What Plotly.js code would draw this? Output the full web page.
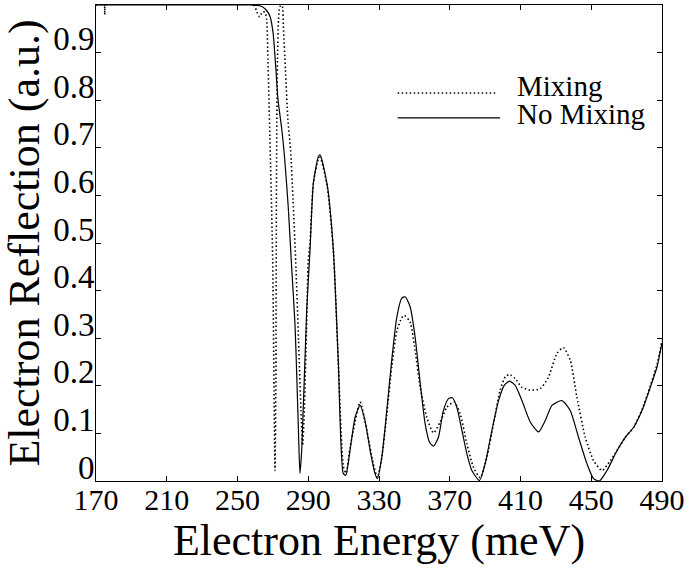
<!DOCTYPE html>
<html>
<head>
<meta charset="utf-8">
<script src="https://cdn.plot.ly/plotly-3.0.1.min.js"></script>
</head>
<body style="margin:0;padding:0;background:#fff;">
<div id="chart" style="width:693px;height:569px;"></div>
<script>
// ---- data ----
var energyNoMix = [170, 257, 261.6, 263.8, 266.1, 268.4, 270.1, 271.6, 272.9, 275.0, 276.5, 278.7, 280.6, 282.5, 283.6, 284.5, 285.3, 286.3, 289.1, 291.0, 292.9, 295.7, 296.7, 300.7, 304.2, 307.0, 309.8, 311.2, 313.6, 316.5, 319.3, 322.1, 325.0, 327.8, 329.1, 331.6, 334.4, 337.2, 340.1, 342.9, 344.8, 347.6, 350.4, 353.3, 356.1, 358.5, 360.8, 363.6, 366.4, 369.3, 371.5, 374.0, 376.9, 379.7, 382.5, 386.8, 390.0, 393.8, 397.6, 400.8, 403.8, 407.0, 410.8, 415.5, 420.2, 424.0, 427.8, 433.4, 438.1, 442.8, 447.6, 451.3, 454.6, 458.9, 464.6, 469.3, 474.0, 478.7, 483.4, 487.2, 490];
var reflNoMix = [1.0, 1.0, 0.999, 0.997, 0.990, 0.976, 0.942, 0.871, 0.801, 0.740, 0.685, 0.575, 0.45, 0.33, 0.21, 0.10, 0.016, 0.064, 0.357, 0.485, 0.626, 0.681, 0.685, 0.622, 0.485, 0.250, 0.016, 0.012, 0.064, 0.134, 0.159, 0.127, 0.064, 0.015, 0.005, 0.050, 0.148, 0.254, 0.345, 0.384, 0.387, 0.366, 0.303, 0.205, 0.120, 0.082, 0.073, 0.092, 0.148, 0.173, 0.175, 0.155, 0.106, 0.057, 0.022, 0.001, 0.036, 0.106, 0.169, 0.201, 0.210, 0.201, 0.169, 0.124, 0.103, 0.127, 0.159, 0.169, 0.148, 0.092, 0.036, 0.005, 0.0, 0.022, 0.064, 0.092, 0.113, 0.148, 0.197, 0.240, 0.29];

var energyMix = [170, 174.6, 175.0, 175.4, 259, 261, 262.5, 264, 265.5, 266.5, 267.2, 268.3, 269.9, 270.6, 271.2, 271.7, 271.9, 272.2, 272.6, 273.2, 274.0, 275.2, 276.0, 277.1, 278.5, 280.0, 281.4, 283.1, 284.5, 285.9, 286.8, 287.6, 289.0, 290.0, 291.0, 292.9, 295.7, 296.7, 300.7, 304.2, 307.0, 309.9, 311.4, 313.6, 315.5, 319.3, 323.1, 326.8, 329.1, 331.6, 334.4, 337.2, 340.1, 342.9, 344.4, 347.6, 350.4, 353.3, 357.0, 360.8, 364.6, 368.4, 372.5, 375.9, 379.7, 383.4, 387.2, 391.0, 394.7, 398.5, 401.4, 403.8, 407.0, 410.8, 415.5, 421.2, 425.9, 430.6, 434.3, 438.1, 441.9, 446.6, 451.3, 456.1, 460.8, 464.6, 469.3, 474.0, 478.7, 483.4, 487.2, 490];
var reflMix = [1.0, 1.0, 0.98, 1.0, 1.0, 0.985, 0.975, 0.985, 0.985, 0.969, 0.885, 0.723, 0.464, 0.212, 0.022, 0.211, 0.485, 0.738, 0.885, 0.969, 0.997, 0.999, 0.948, 0.864, 0.759, 0.696, 0.591, 0.443, 0.296, 0.148, 0.075, 0.127, 0.317, 0.464, 0.50, 0.626, 0.676, 0.680, 0.62, 0.485, 0.250, 0.03, 0.016, 0.07, 0.106, 0.166, 0.106, 0.036, 0.007, 0.050, 0.140, 0.240, 0.315, 0.343, 0.348, 0.334, 0.275, 0.197, 0.134, 0.101, 0.124, 0.155, 0.166, 0.141, 0.078, 0.029, 0.007, 0.050, 0.120, 0.191, 0.219, 0.224, 0.215, 0.197, 0.191, 0.194, 0.219, 0.268, 0.280, 0.254, 0.176, 0.092, 0.043, 0.022, 0.043, 0.064, 0.092, 0.113, 0.150, 0.200, 0.245, 0.295];

var seriesNames = ["Mixing", "No Mixing"];
var xTickVals = [170, 210, 250, 290, 330, 370, 410, 450, 490];
var yTickVals = [0, 0.1, 0.2, 0.3, 0.4, 0.5, 0.6, 0.7, 0.8, 0.9];
var yTickText = ["0", "0.1", "0.2", "0.3", "0.4", "0.5", "0.6", "0.7", "0.8", "0.9"];
var xTitle = "Electron Energy (meV)";
var yTitle = "Electron Reflection (a.u.)";

// ---- drawing ----
var FONT = "Liberation Serif";

var traces = [
  {x: energyMix, y: reflMix, type: "scatter", mode: "lines", name: seriesNames[0],
   line: {color: "#000", width: 1.6, dash: "1.5px,2.5px", shape: "spline", smoothing: 0.6},
   showlegend: false},
  {x: energyNoMix, y: reflNoMix, type: "scatter", mode: "lines", name: seriesNames[1],
   line: {color: "#000", width: 1.2, shape: "spline", smoothing: 0.6},
   showlegend: false}
];

var layout = {
  width: 693, height: 569,
  margin: {l: 96, r: 31, t: 5, b: 88},
  paper_bgcolor: "#fff", plot_bgcolor: "#fff",
  font: {family: FONT, size: 28, color: "#000"},
  showlegend: false,
  xaxis: {
    range: [170, 490], tickvals: xTickVals, ticktext: xTickVals.map(String),
    showgrid: false, zeroline: false, showline: true, linecolor: "#000", linewidth: 1,
    mirror: "ticks", ticks: "inside", ticklen: 5, tickcolor: "#000", tickwidth: 1,
    ticklabelstandoff: -8,
    tickfont: {family: FONT, size: 30, color: "#000"},
    title: {text: xTitle, font: {family: FONT, size: 44, color: "#000"}, standoff: 2}
  },
  yaxis: {
    range: [0, 1.0], tickvals: yTickVals, ticktext: yTickText,
    showgrid: false, zeroline: false, showline: true, linecolor: "#000", linewidth: 1,
    mirror: "ticks", ticks: "inside", ticklen: 5, tickcolor: "#000", tickwidth: 1,
    ticklabelshift: -14, ticklabelstandoff: -6,
    tickfont: {family: FONT, size: 33, color: "#000"},
    title: {text: yTitle, font: {family: FONT, size: 44, color: "#000"}, standoff: 4}
  },
  shapes: [
    {type: "line", xref: "paper", yref: "paper", x0: 0.533, x1: 0.708, y0: 0.815, y1: 0.815,
     line: {color: "#000", width: 1.6, dash: "1.5px,2.5px"}},
    {type: "line", xref: "paper", yref: "paper", x0: 0.533, x1: 0.714, y0: 0.763, y1: 0.763,
     line: {color: "#000", width: 1.2}}
  ],
  annotations: [
    {xref: "paper", yref: "paper", x: 0.74, y: 0.83, xanchor: "left", yanchor: "middle",
     text: seriesNames[0], showarrow: false, font: {family: FONT, size: 29, color: "#000"}},
    {xref: "paper", yref: "paper", x: 0.74, y: 0.772, xanchor: "left", yanchor: "middle",
     text: seriesNames[1], showarrow: false, font: {family: FONT, size: 29, color: "#000"}}
  ]
};

Plotly.newPlot("chart", traces, layout, {displayModeBar: false});
</script>
</body>
</html>
